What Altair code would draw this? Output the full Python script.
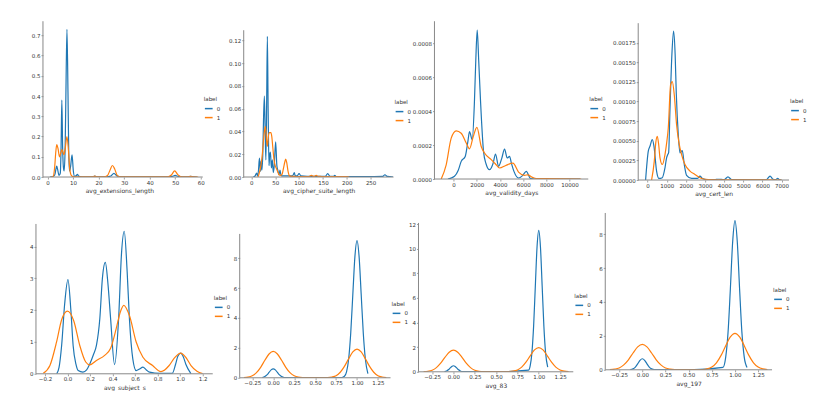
import altair as alt
import pandas as pd

BLUE = "#1f77b4"
ORANGE = "#ff7f0e"
SPINE = "#888888"

# ---------------- Panel 1: avg_extensions_length ----------------
p1_x0 = [0.9, 2.0, 2.8, 3.3, 3.6, 3.9, 4.5, 5.0, 5.3, 5.6, 5.9, 6.2, 6.5, 6.9, 7.2, 7.6, 8.0, 8.3, 8.6, 9.0, 9.6,
         10.1, 10.6, 11.2, 11.7, 12.3, 13.5, 17.5, 18.5, 19.5, 23, 24.8, 26, 27.2, 29, 47, 48.8, 50, 51.2, 53, 55,
         56, 57, 58.5]
p1_y0 = [0, 0.002, 0.01, 0.04, 0.054, 0.04, 0.008, 0.02, 0.15, 0.38, 0.15, 0.05, 0.03, 0.15, 0.42, 0.73, 0.42,
         0.12, 0.03, 0.05, 0.11, 0.03, 0.003, 0.006, 0.013, 0.003, 0.001, 0.001, 0.004, 0.001, 0.001, 0.005, 0.018,
         0.005, 0.001, 0.001, 0.003, 0.008, 0.003, 0.001, 0.001, 0.003, 0.001, 0]
p1_x1 = [1.5, 2.2, 2.8, 3.2, 3.6, 4.1, 4.7, 5.2, 5.6, 6.0, 6.4, 6.9, 7.6, 8.2, 8.7, 9.3, 10, 11, 15, 17.5, 18.5,
         19.5, 22, 23.5, 24.5, 25.4, 26.3, 27.3, 28.5, 40, 47, 48.5, 49.8, 51, 52.5, 55, 56, 57, 59]
p1_y1 = [0, 0.003, 0.05, 0.12, 0.16, 0.14, 0.10, 0.12, 0.136, 0.125, 0.11, 0.14, 0.20, 0.13, 0.04, 0.008, 0.002,
         0.001, 0.001, 0.001, 0.004, 0.001, 0.001, 0.008, 0.035, 0.057, 0.04, 0.008, 0.001, 0.001, 0.001, 0.01,
         0.03, 0.012, 0.001, 0.001, 0.003, 0.001, 0]

# ---------------- Panel 2: avg_cipher_suite_length ----------------
p2_x0 = [4, 8, 11, 13, 15, 17, 19, 20.5, 22, 24, 25.5, 27.3, 29, 30.5, 32, 33.6, 35.2, 37, 38.5, 40, 42, 44, 46,
         48, 51, 53.5, 55.5, 58, 60, 62, 64, 70, 85, 88, 90, 92, 96, 100, 104, 130, 155, 160, 165, 172, 175, 178,
         240, 275, 280, 285, 297]
p2_y0 = [0, 0.001, 0.0035, 0.001, 0.006, 0.0167, 0.005, 0.014, 0.006, 0.02, 0.05, 0.071, 0.04, 0.015, 0.06,
         0.1235, 0.06, 0.01, 0.02, 0.022, 0.008, 0.015, 0.004, 0.01, 0.031, 0.01, 0.006, 0.002, 0.006, 0.002,
         0.001, 0.001, 0.001, 0.002, 0.004, 0.001, 0.001, 0.003, 0.001, 0.0005, 0.0005, 0.003, 0.0005, 0.0005,
         0.0015, 0.0003, 0.0003, 0.0005, 0.002, 0.0005, 0]
p2_x1 = [14, 17, 20, 23, 26, 29.4, 32, 33.6, 35.5, 38, 41, 43, 45, 47.6, 50, 53, 56, 58, 61, 64, 67, 70, 72, 74,
         77, 80, 84, 90, 100, 120, 126, 131, 136, 140, 145, 150, 200, 205]
p2_y1 = [0, 0.004, 0.01, 0.02, 0.035, 0.0445, 0.032, 0.027, 0.035, 0.039, 0.039, 0.035, 0.026, 0.015, 0.01,
         0.007, 0.004, 0.002, 0.0015, 0.002, 0.007, 0.013, 0.0158, 0.013, 0.005, 0.001, 0.0005, 0.0005, 0.0003,
         0.0003, 0.0015, 0.0005, 0.0015, 0.0005, 0.0005, 0.0003, 0.0003, 0]

# ---------------- Panel 3: avg_validity_days ----------------
p3_x0 = [-480, 86, 400, 664, 1009, 1240, 1380, 1612, 1800, 1920, 2043, 2170, 2330, 2586, 2800, 3103, 3400, 3620,
         3879, 4150, 4397, 4629, 4828, 5000, 5207, 5603, 5950, 6267, 6638, 7000, 10900]
p3_y0 = [0, 0.000016, 0.00005, 0.000104, 0.000133, 0.000222, 0.00028, 0.000231, 0.00045, 0.0007, 0.000878,
         0.0007, 0.000457, 0.000163, 0.00009, 0.000055, 0.00009, 0.000147, 0.000075, 0.00012, 0.000176,
         0.000124, 0.000133, 0.00009, 0.000045, 0.000006, 0.00002, 0.000045, 0.000003, 0, 0]
p3_x1 = [-1060, -630, -198, 233, 664, 1095, 1380, 1700, 2017, 2388, 2672, 3250, 3600, 3966, 4500, 5121, 5603,
         6121, 6400, 6800, 7130, 8000, 11000]
p3_y1 = [0, 0.000084, 0.000241, 0.000284, 0.00027, 0.000212, 0.000178, 0.00025, 0.000304, 0.000192, 0.000153,
         0.000114, 0.00009, 0.000065, 0.00008, 0.000094, 0.000041, 0.000022, 0.000025, 0.00001, 0.000003,
         0.000002, 0]

# ---------------- Panel 4: avg_cert_len ----------------
p4_x0 = [-104, 37, 125, 245, 334, 470, 596, 770, 909, 993, 1045, 1100, 1170, 1270, 1358, 1440, 1500, 1604, 1693,
         1813, 1917, 2037, 2300, 2600, 2737, 2870, 3100, 3500, 3700, 4000, 4200, 4400, 6200, 6400, 6550, 6700,
         6800, 6900, 7000]
p4_y0 = [0, 0.000368, 0.000431, 0.000515, 0.00043, 0.000114, 0.00002, 0.00003, 0.000156, 0.000283, 0.00032,
         0.00035, 0.0009, 0.0016, 0.0019, 0.0016, 0.0011, 0.000578, 0.000346, 0.000375, 0.000198, 0.00006,
         0.00002, 0.00002, 0.00005, 0.00002, 0.000005, 0.000005, 0.00001, 0.000005, 0.00004, 0.000005, 0.000003,
         0.00005, 0.00001, 0.000005, 0.00002, 0.000002, 0]
p4_x1 = [209, 350, 430, 507, 580, 648, 768, 909, 1000, 1081, 1202, 1290, 1395, 1515, 1640, 1776, 1954, 2215,
         2476, 2825, 3200, 4000, 6000, 7000]
p4_y1 = [0, 0.000241, 0.00048, 0.000558, 0.00045, 0.000283, 0.000198, 0.000325, 0.00048, 0.000663, 0.001212,
         0.001255, 0.001085, 0.000705, 0.000473, 0.000325, 0.000198, 0.000114, 0.000071, 0.00002, 0.000005,
         0.000002, 0.000002, 0]

# ---------------- Panel 5: avg_subject_s ----------------
p5_x0 = [-0.096, -0.075, -0.052, -0.025, 0.004, 0.03, 0.05, 0.075, 0.095, 0.137, 0.17, 0.198, 0.23, 0.257,
         0.287, 0.31, 0.336, 0.36, 0.383, 0.418, 0.454, 0.48, 0.504, 0.53, 0.55, 0.58, 0.61, 0.64, 0.67, 0.7,
         0.729, 0.82, 0.93, 0.96, 0.98, 1.005, 1.03, 1.05, 1.097]
p5_y0 = [0, 0.2, 0.89, 2.2, 2.96, 2.0, 0.89, 0.3, 0.1, 0.05, 0.12, 0.31, 0.6, 0.89, 1.73, 3.0, 3.5, 2.8, 1.73,
         0.29, 1.73, 3.8, 4.48, 3.2, 1.73, 0.47, 0.1, 0.15, 0.21, 0.12, 0.05, 0.01, 0.01, 0.3, 0.55, 0.65, 0.52,
         0.31, 0]
p5_x1 = [-0.215, -0.156, -0.097, -0.052, 0.0, 0.056, 0.109, 0.162, 0.198, 0.257, 0.33, 0.383, 0.432, 0.47, 0.5,
         0.55, 0.61, 0.67, 0.756, 0.83, 0.903, 0.95, 1.005, 1.05, 1.097, 1.15, 1.2]
p5_y1 = [0.02, 0.26, 1.0, 1.7, 1.97, 1.66, 0.89, 0.37, 0.28, 0.42, 0.58, 0.8, 1.41, 1.95, 2.15, 1.83, 1.0, 0.52,
         0.26, 0.07, 0.26, 0.5, 0.65, 0.52, 0.26, 0.08, 0.01]

# ---------------- Panels 6-8: binary features ----------------
bin_x1 = [-0.35, -0.3, -0.25, -0.2, -0.15, -0.1, -0.05, 0, 0.05, 0.1, 0.15, 0.2, 0.25, 0.3, 0.35, 0.45, 0.5,
          0.55, 0.65, 0.7, 0.75, 0.8, 0.85, 0.9, 0.95, 1.0, 1.05, 1.1, 1.15, 1.2, 1.25, 1.3, 1.35]

p6_x0 = [-0.13, -0.1, -0.075, -0.05, -0.025, 0, 0.025, 0.05, 0.075, 0.1, 0.13, 0.5, 0.82, 0.85, 0.875, 0.9,
         0.925, 0.95, 0.975, 1.0, 1.025, 1.05, 1.075, 1.1, 1.13]
p6_y0 = [0.02, 0.08, 0.19, 0.36, 0.53, 0.6, 0.53, 0.36, 0.19, 0.08, 0.02, 0, 0.02, 0.10, 0.40, 1.24, 2.98, 5.57,
         8.10, 9.18, 8.10, 5.57, 2.98, 1.24, 0.28]
p6_y1 = [0.01, 0.04, 0.13, 0.34, 0.70, 1.17, 1.59, 1.76, 1.59, 1.17, 0.70, 0.34, 0.13, 0.04, 0.015, 0.01, 0.01,
         0.01, 0.015, 0.05, 0.14, 0.37, 0.76, 1.27, 1.73, 1.92, 1.73, 1.27, 0.76, 0.37, 0.14, 0.05, 0.01]

p7_x0 = [-0.105, -0.08, -0.06, -0.04, -0.02, 0, 0.02, 0.04, 0.06, 0.08, 0.105, 0.5, 0.88, 0.9, 0.92, 0.94, 0.96,
         0.98, 1.0, 1.02, 1.04, 1.06, 1.08, 1.105]
p7_y0 = [0.016, 0.066, 0.16, 0.30, 0.43, 0.49, 0.43, 0.30, 0.16, 0.066, 0.016, 0, 0.13, 0.50, 1.56, 3.73, 6.97,
         10.15, 11.5, 10.15, 6.97, 3.73, 1.56, 0.37]
p7_y1 = [0.01, 0.04, 0.13, 0.34, 0.70, 1.17, 1.59, 1.76, 1.59, 1.17, 0.70, 0.34, 0.13, 0.04, 0.015, 0.01, 0.01,
         0.01, 0.015, 0.05, 0.15, 0.38, 0.78, 1.30, 1.78, 1.97, 1.78, 1.30, 0.78, 0.38, 0.15, 0.05, 0.01]

p8_x0 = [-0.13, -0.1, -0.075, -0.05, -0.025, 0, 0.025, 0.05, 0.075, 0.1, 0.13, 0.5, 0.87, 0.9, 0.925, 0.95,
         0.975, 1.0, 1.025, 1.05, 1.075, 1.1, 1.13]
p8_y0 = [0.01, 0.055, 0.16, 0.35, 0.56, 0.65, 0.56, 0.35, 0.16, 0.055, 0.01, 0, 0.14, 0.75, 2.19, 4.75, 7.54,
         8.8, 7.54, 4.75, 2.19, 0.75, 0.14]
p8_y1 = [0.01, 0.04, 0.11, 0.29, 0.59, 0.99, 1.35, 1.50, 1.35, 0.99, 0.59, 0.29, 0.11, 0.04, 0.015, 0.01, 0.01,
         0.01, 0.015, 0.05, 0.16, 0.41, 0.85, 1.42, 1.94, 2.15, 1.94, 1.42, 0.85, 0.41, 0.16, 0.05, 0.01]

# tick values
ticks_p1_x = [0, 10, 20, 30, 40, 50, 60]
ticks_p1_y = [0.0, 0.1, 0.2, 0.3, 0.4, 0.5, 0.6, 0.7]
ticks_p2_x = [0, 50, 100, 150, 200, 250]
ticks_p2_y = [0.0, 0.02, 0.04, 0.06, 0.08, 0.10, 0.12]
ticks_p3_x = [0, 2000, 4000, 6000, 8000, 10000]
ticks_p3_y = [0.0, 0.0002, 0.0004, 0.0006, 0.0008]
ticks_p4_x = [0, 1000, 2000, 3000, 4000, 5000, 6000, 7000]
ticks_p4_y = [0.0, 0.00025, 0.0005, 0.00075, 0.001, 0.00125, 0.0015, 0.00175]
ticks_p5_x = [-0.2, 0.0, 0.2, 0.4, 0.6, 0.8, 1.0, 1.2]
ticks_p5_y = [0, 1, 2, 3, 4]
ticks_bin_x = [-0.25, 0.0, 0.25, 0.5, 0.75, 1.0, 1.25]
ticks_p6_y = [0, 2, 4, 6, 8]
ticks_p7_y = [0, 2, 4, 6, 8, 10, 12]
ticks_p8_y = [0, 2, 4, 6, 8]


def make_df(x0, y0, x1, y1):
    return pd.DataFrame({
        "x": list(x0) + list(x1),
        "y": list(y0) + list(y1),
        "label": ["0"] * len(x0) + ["1"] * len(x1),
    })


NO_FRAME = alt.ViewBackground(stroke="transparent", strokeWidth=0, strokeOpacity=0)


def panel(df, title, xdom, ydom, spine_x, spine_top, xticks, yticks, xfmt, yfmt, w, h, ly, ext, yoff=0):
    xs = alt.Scale(domain=xdom, nice=False, zero=False)
    ys = alt.Scale(domain=ydom, nice=False, zero=False)
    xa = alt.Axis(values=xticks, format=xfmt, title=title, domain=False)
    ya = alt.Axis(values=yticks, format=yfmt, title=None, minExtent=ext, domain=False, offset=yoff)
    lines = alt.Chart(df).mark_line(strokeWidth=1.2, interpolate="monotone", clip=True).encode(
        x=alt.X("x:Q", scale=xs, axis=xa),
        y=alt.Y("y:Q", scale=ys, axis=ya),
        color=alt.Color("label:N", scale=alt.Scale(domain=["0", "1"], range=[BLUE, ORANGE]),
                        legend=alt.Legend(orient="none", legendX=w + 1, legendY=ly, title="label",
                                          titleFontSize=5.5, titleFontWeight="normal", titleColor="#333",
                                          labelFontSize=5.5, labelColor="#333", symbolType="stroke",
                                          symbolStrokeWidth=1.5, symbolSize=60, rowPadding=-2,
                                          titlePadding=1, labelOffset=3, padding=0)),
    ).properties(view=NO_FRAME)
    one = pd.DataFrame({"k": [0]})
    left_spine = alt.Chart(one).mark_rule(color=SPINE, strokeWidth=1).encode(
        x=alt.X(datum=spine_x, scale=xs, axis=xa),
        y=alt.Y(datum=0, scale=ys, axis=ya),
        y2=alt.Y2(datum=spine_top),
    ).properties(view=NO_FRAME)
    bottom_spine = alt.Chart(one).mark_rule(color=SPINE, strokeWidth=1).encode(
        x=alt.X(datum=spine_x, scale=xs, axis=xa),
        x2=alt.X2(datum=xdom[1]),
        y=alt.Y(datum=0, scale=ys, axis=ya),
    ).properties(view=NO_FRAME)
    return alt.layer(lines, left_spine, bottom_spine).properties(width=w, height=h, view=NO_FRAME)


def ind(c):
    return c.resolve_scale(color="independent").resolve_legend(color="independent")


# Each panel: data, title, x domain, y domain, spine x, spine top, ticks, formats, width, height, legend y, y-axis extent
P1 = panel(make_df(p1_x0, p1_y0, p1_x1, p1_y1), "avg_extensions_length", [-4.54, 60.8], [0, 0.77], -1.8, 0.77,
           ticks_p1_x, ticks_p1_y, "d", ".1f", 167, 156, 76, 0, yoff=-7)
P2 = panel(make_df(p2_x0, p2_y0, p2_x1, p2_y1), "avg_cipher_suite_length", [-16, 298], [0, 0.1369], -16, 0.129,
           ticks_p2_x, ticks_p2_y, "d", ".2f", 150, 156, 79, 23)
P3 = panel(make_df(p3_x0, p3_y0, p3_x1, p3_y1), "avg_validity_days", [-1640, 11610], [0, 0.00093], -1640,
           0.00093, ticks_p3_x, ticks_p3_y, "d", ".4f", 154, 158, 76, 23)
P4 = panel(make_df(p4_x0, p4_y0, p4_x1, p4_y1), "avg_cert_len", [-490, 7390], [0, 0.002025], -490, 0.002,
           ticks_p4_x, ticks_p4_y, "d", ".5f", 151, 159, 78, 32)
P5 = panel(make_df(p5_x0, p5_y0, p5_x1, p5_y1), "avg_subject_s", [-0.28, 1.29], [0, 5.055], -0.28, 4.71,
           ticks_p5_x, ticks_p5_y, ".1f", "d", 177, 161, 83, 12)
P6 = panel(make_df(p6_x0, p6_y0, bin_x1, p6_y1), None, [-0.40, 1.40], [0, 11.02], -0.40, 9.62,
           ticks_bin_x, ticks_p6_y, ".2f", "d", 151, 165, 89, 9)
P7 = panel(make_df(p7_x0, p7_y0, bin_x1, p7_y1), "avg_83", [-0.41, 1.405], [0, 12.91], -0.41, 12.1,
           ticks_bin_x, ticks_p7_y, ".2f", "d", 155, 159, 81, 8)
P8 = panel(make_df(p8_x0, p8_y0, bin_x1, p8_y1), "avg_197", [-0.40, 1.40], [0, 9.25], -0.40, 9.25,
           ticks_bin_x, ticks_p8_y, ".2f", "d", 167, 157, 75, 14)

row1 = ind(alt.concat(P1, P2, P3, P4, columns=4, spacing=0))
row2 = ind(alt.concat(P5, P6, P7, P8, columns=4, spacing=0))

chart = ind(alt.vconcat(row1, row2, spacing=15)).properties(
    padding={"left": 16, "top": 12, "right": 0, "bottom": 0}
).configure_view(stroke="transparent", strokeWidth=0, strokeOpacity=0).configure(
    font="DejaVu Sans"
).configure_axis(
    grid=False, tickColor=SPINE, tickSize=2, tickWidth=0.8,
    labelFontSize=5.5, labelColor="#333", titleFontSize=6, titleFontWeight="normal", titleColor="#333",
    labelPadding=1, titlePadding=2
)

chart.save("out.html", embed_options={"renderer": "svg", "actions": False})
